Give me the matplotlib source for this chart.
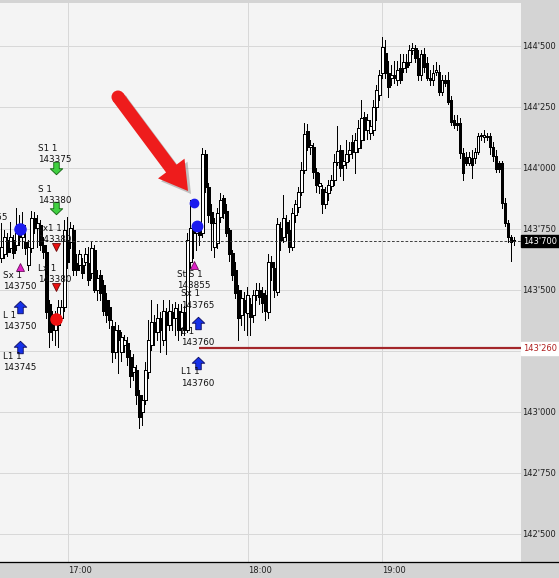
import numpy as np
import matplotlib
matplotlib.use("Agg")
import matplotlib.pyplot as plt
from matplotlib.path import Path
from matplotlib.lines import Line2D
from matplotlib.patches import FancyArrow, Circle
from matplotlib.transforms import IdentityTransform

# one-minute bars, prices in ticks (144'500 == 144500)
opens = [143630, 143645, 143705, 143670, 143705, 143685, 143735, 143715, 143695, 143600,
         143670, 143795, 143755, 143765, 143685, 143655, 143440, 143385, 143335, 143355,
         143385, 143430, 143705, 143695, 143745, 143610, 143600, 143600, 143615, 143610,
         143570, 143665, 143500, 143560, 143520, 143460, 143430, 143350, 143245, 143335,
         143245, 143275, 143280, 143225, 143165, 143170, 143070, 143000, 143050, 143165,
         143275, 143370, 143325, 143385, 143295, 143410, 143355, 143410, 143385, 143415,
         143345, 143410, 143335, 143615, 143745, 143735, 143755, 143735, 144055, 143920,
         143820, 143675, 143690, 143800, 143875, 143825, 143745, 143650, 143580, 143500,
         143395, 143460, 143405, 143440, 143395, 143480, 143500, 143485, 143480, 143410,
         143615, 143590, 143490, 143755, 143715, 143780, 143745, 143675, 143805, 143840,
         143900, 143990, 144150, 144085, 144085, 143985, 143925, 143915, 143850, 143895,
         143925, 143950, 144025, 144075, 144010, 144025, 144055, 144105, 144065, 144080,
         144115, 144210, 144155, 144145, 144155, 144250, 144300, 144390, 144470, 144390,
         144370, 144380, 144360, 144410, 144410, 144435, 144435, 144485, 144490, 144450,
         144380, 144465, 144430, 144370, 144360, 144395, 144395, 144310, 144360, 144360,
         144280, 144195, 144185, 144185, 144060, 144045, 144020, 144040, 144040, 144065,
         144130, 144125, 144130, 144130, 144085, 144050, 144020, 144020, 143855, 143775,
         143715, 143705]
highs = [143775, 143745, 143735, 143780, 143725, 143835, 143805, 143820, 143765, 143705,
         143825, 143820, 143805, 143785, 143715, 143685, 143460, 143415, 143415, 143460,
         143460, 143785, 143800, 143780, 143765, 143645, 143665, 143630, 143670, 143675,
         143695, 143685, 143580, 143580, 143540, 143485, 143460, 143375, 143370, 143355,
         143325, 143315, 143305, 143255, 143235, 143190, 143090, 143070, 143205, 143375,
         143460, 143395, 143440, 143410, 143460, 143425, 143460, 143440, 143450, 143440,
         143440, 143435, 143735, 143870, 143765, 143780, 143765, 144080, 144075, 143940,
         143850, 143795, 143835, 143895, 143890, 143850, 143755, 143665, 143615, 143520,
         143500, 143490, 143510, 143465, 143500, 143530, 143530, 143510, 143500, 143645,
         143640, 143615, 143795, 143780, 143890, 143805, 143785, 143835, 143870, 143920,
         144025, 144185, 144180, 144115, 144100, 144000, 143980, 143930, 143920, 143950,
         143970, 144055, 144170, 144095, 144075, 144115, 144105, 144135, 144145, 144195,
         144280, 144230, 144220, 144195, 144280, 144340, 144400, 144535, 144525, 144440,
         144420, 144440, 144440, 144465, 144465, 144465, 144505, 144510, 144505, 144485,
         144485, 144490, 144455, 144400, 144420, 144435, 144420, 144380, 144380, 144395,
         144295, 144215, 144215, 144205, 144080, 144065, 144065, 144075, 144080, 144145,
         144145, 144155, 144145, 144145, 144105, 144075, 144030, 144030, 143875, 143785,
         143725, 143715]
lows = [143615, 143630, 143640, 143655, 143630, 143665, 143685, 143670, 143645, 143580,
        143655, 143735, 143675, 143665, 143630, 143385, 143265, 143295, 143275, 143265,
        143370, 143415, 143590, 143670, 143560, 143560, 143580, 143550, 143600, 143520,
        143550, 143490, 143460, 143460, 143395, 143370, 143345, 143205, 143220, 143160,
        143210, 143245, 143190, 143100, 143130, 143030, 142935, 142945, 143030, 143140,
        143255, 143275, 143295, 143245, 143275, 143235, 143335, 143335, 143315, 143295,
        143315, 143315, 143325, 143590, 143630, 143665, 143685, 143715, 143900, 143780,
        143665, 143635, 143670, 143780, 143795, 143720, 143620, 143540, 143465, 143295,
        143355, 143335, 143315, 143315, 143370, 143460, 143440, 143410, 143375, 143385,
        143540, 143470, 143480, 143665, 143695, 143705, 143655, 143665, 143780, 143820,
        143890, 143980, 144075, 144055, 143960, 143900, 143895, 143815, 143835, 143870,
        143910, 143930, 144010, 143965, 143950, 144000, 144030, 144040, 143980, 144065,
        144080, 144115, 144120, 144120, 144135, 144195, 144280, 144370, 144370, 144290,
        144340, 144350, 144340, 144350, 144395, 144395, 144420, 144465, 144435, 144360,
        144360, 144395, 144360, 144340, 144340, 144380, 144300, 144300, 144335, 144260,
        144175, 144165, 144155, 144040, 143950, 144010, 144010, 143960, 144020, 144055,
        144115, 144105, 144115, 144055, 144030, 143985, 143985, 143835, 143760, 143695,
        143620, 143685]
closes = [143675, 143715, 143655, 143715, 143650, 143735, 143715, 143745, 143670, 143675,
          143795, 143755, 143775, 143685, 143655, 143410, 143325, 143335, 143385, 143430,
          143430, 143745, 143615, 143755, 143580, 143580, 143645, 143570, 143645, 143540,
          143670, 143500, 143550, 143485, 143415, 143395, 143375, 143245, 143335, 143295,
          143305, 143295, 143225, 143145, 143185, 143070, 142980, 143050, 143170, 143295,
          143370, 143325, 143385, 143335, 143415, 143355, 143415, 143385, 143425, 143335,
          143410, 143335, 143705, 143755, 143735, 143755, 143725, 144055, 143920, 143805,
          143775, 143775, 143815, 143870, 143815, 143735, 143645, 143560, 143485, 143385,
          143465, 143410, 143480, 143390, 143480, 143500, 143470, 143445, 143415, 143615,
          143595, 143500, 143770, 143705, 143795, 143735, 143675, 143815, 143850, 143900,
          143990, 144140, 144085, 144095, 143985, 143930, 143940, 143850, 143900, 143930,
          143950, 144025, 144070, 144000, 144030, 144055, 144075, 144065, 144115, 144165,
          144205, 144155, 144195, 144170, 144250, 144320, 144380, 144495, 144390, 144330,
          144380, 144370, 144400, 144360, 144435, 144415, 144485, 144490, 144450, 144380,
          144465, 144415, 144370, 144360, 144390, 144400, 144310, 144360, 144350, 144270,
          144190, 144175, 144175, 144060, 143980, 144020, 144045, 144010, 144065, 144130,
          144130, 144135, 144125, 144085, 144050, 143995, 143995, 143855, 143775, 143715,
          143695, 143700]

time_labels = ["17:00", "18:00", "19:00"]
time_bars = [22.2, 82.2, 126.8]
price_ticks = list(range(142500, 144501, 250))

last_price = 143700
stop_price = 143260
stop_from_bar = 66

fill_bars = [6.2, 18.2, 64.2, 65.2]
fill_prices = [143750, 143380, 143855, 143760]
fill_colors = ["#1a1aee", "#ee1111", "#1a1aee", "#1a1aee"]
fill_sizes = [8, 8, 6, 7.5]

sig_bars = [6.2, 6.2, 6.2, 18.2, 18.2, 18.2, 18.2, 64.2, 65.5, 65.5, 65.5]
sig_prices = [143595, 143430, 143265, 144000, 143835, 143675, 143510, 143600, 143520, 143365, 143200]
sig_kinds = ["tri_up", "arrow_up", "arrow_up", "arrow_down", "arrow_down", "tri_down",
             "tri_down", "tri_up", "none", "arrow_up", "arrow_up"]
sig_texts = ["Sx 1\n143750", "L 1\n143750", "L1 1\n143745", "S1 1\n143375", "S 1\n143380",
             "Lx1 1\n143380", "Lx 1\n143380", "St S 1\n143855", "Sx 1\n143765",
             "L 1\n143760", "L1 1\n143760"]
cut_label = "143755"
cut_label_price = 143795


def fmt_price(v):
    v = int(round(v))
    return "%d'%03d" % (v // 1000, v % 1000)


W, H = 559, 578
PX = 0.72  # points per pixel at dpi 100
FS = 6.3
TFS = 6.0

fig = plt.figure(figsize=(W / 100, H / 100), dpi=100, facecolor="#d4d4d4")
ax = fig.add_axes([0, 16 / H, 521 / W, 559 / H])
ax.set_facecolor("#f4f4f4")
for s in ax.spines.values():
    s.set_visible(False)

n = len(closes)
x = np.arange(n)
o = np.array(opens)
c = np.array(closes)
up = c >= o

ax.set_xlim(-0.5, 173.2)
ax.set_ylim(142384, 144676)

# the 143'250 label sits under the stop price label
ax.set_yticks(price_ticks)
ax.set_yticklabels(["" if abs(p - stop_price) < 30 else fmt_price(p) for p in price_ticks])
ax.yaxis.tick_right()
ax.tick_params(axis="y", length=0, pad=1.0, labelsize=TFS, labelcolor="#202020")
ax.set_xticks(time_bars)
ax.set_xticklabels(time_labels)
for lab in ax.get_xticklabels():
    lab.set_ha("left")
ax.tick_params(axis="x", length=0, pad=3.0, labelsize=TFS, labelcolor="#202020")
ax.grid(True, color="#d8d8d8", lw=1.0 * PX, zorder=0)
ax.set_axisbelow(True)

# candles
ax.vlines(x, lows, highs, color="black", lw=1.0 * PX, zorder=2, antialiased=False)
bottoms = np.minimum(o, c)
heights = np.maximum(np.abs(c - o), 3)
ax.bar(x, heights, bottom=bottoms, width=0.72, color=np.where(up, "white", "black"),
       edgecolor="black", linewidth=1.0 * PX, zorder=3, antialiased=False)

# last price and stop line
ax.axhline(last_price, color="#303030", lw=0.9 * PX, ls=(0, (3, 2)), zorder=4)
ax.hlines(stop_price, stop_from_bar, 173.2, color="#a3262a", lw=2.2 * PX, zorder=4)
ytr = ax.get_yaxis_transform()
ax.text(1.004, last_price, fmt_price(last_price), transform=ytr, ha="left", va="center",
        color="white", fontsize=TFS, clip_on=False,
        bbox=dict(boxstyle="square,pad=0.2", fc="black", ec="black"))
ax.text(1.004, stop_price, fmt_price(stop_price), transform=ytr, ha="left", va="center",
        color="#b02020", fontsize=TFS, clip_on=False,
        bbox=dict(boxstyle="square,pad=0.2", fc="white", ec="white"))

# block arrow markers
arrow_up = Path([(-0.22, -0.5), (0.22, -0.5), (0.22, 0.02), (0.5, 0.02), (0, 0.5),
                 (-0.5, 0.02), (-0.22, 0.02), (-0.22, -0.5)])
arrow_down = Path([(px, -py) for px, py in arrow_up.vertices])
styles = {
    "arrow_up": dict(marker=arrow_up, ms=9, mfc="#1530e8", mec="#0a0a60"),
    "arrow_down": dict(marker=arrow_down, ms=9, mfc="#40d040", mec="#106010"),
    "tri_up": dict(marker="^", ms=5.5, mfc="#e020c8", mec="#701060"),
    "tri_down": dict(marker="v", ms=5.5, mfc="#e81010", mec="#700808"),
}

for b, p, k, t in zip(sig_bars, sig_prices, sig_kinds, sig_texts):
    if k in styles:
        st = styles[k]
        ax.plot([b], [p], ls="none", marker=st["marker"], ms=st["ms"], mfc=st["mfc"],
                mec=st["mec"], mew=0.6, zorder=6)
    if k == "arrow_down" or k == "tri_down":
        ax.annotate(t, (b, p), xytext=(-18 * PX, 3.5 * PX), textcoords="offset points",
                    ha="left", va="bottom", fontsize=FS, linespacing=1.3, color="#111111",
                    zorder=7)
    else:
        ax.annotate(t, (b, p), xytext=(-17 * PX, -4.5 * PX), textcoords="offset points",
                    ha="left", va="top", fontsize=FS, linespacing=1.3, color="#111111",
                    zorder=7)

for b, p, col, sz in zip(fill_bars, fill_prices, fill_colors, fill_sizes):
    ax.plot([b], [p], "o", ms=sz, color=col, mec=col, zorder=8)

# label cut off at the left edge of the chart
t = ax.annotate(cut_label, (-0.5, cut_label_price), xytext=(8 * PX, 0), textcoords="offset points",
                ha="right", va="center", fontsize=FS, color="#111111")
t.set_clip_on(True)


# big red pointer arrow, drawn in pixel space
def pix(px, py):
    return px, H - py


tx, ty = pix(118, 97)
hx, hy = pix(188, 191)
for off, col, a in [((3, -3), "#808080", 0.45), ((0, 0), "#ee1c1c", 1.0)]:
    arr = FancyArrow(tx + off[0], ty + off[1], hx - tx, hy - ty, width=13, head_width=33,
                     head_length=28, length_includes_head=True, transform=IdentityTransform(),
                     color=col, alpha=a, lw=0)
    fig.add_artist(arr)
    fig.add_artist(Circle((tx + off[0], ty + off[1]), 6.5, transform=IdentityTransform(),
                          color=col, alpha=a, lw=0))

# bottom frame line
fig.add_artist(Line2D([0, 1], [16 / H, 16 / H], transform=fig.transFigure, color="black", lw=1.3 * PX))

fig.savefig("out.png", dpi=100, facecolor=fig.get_facecolor())
